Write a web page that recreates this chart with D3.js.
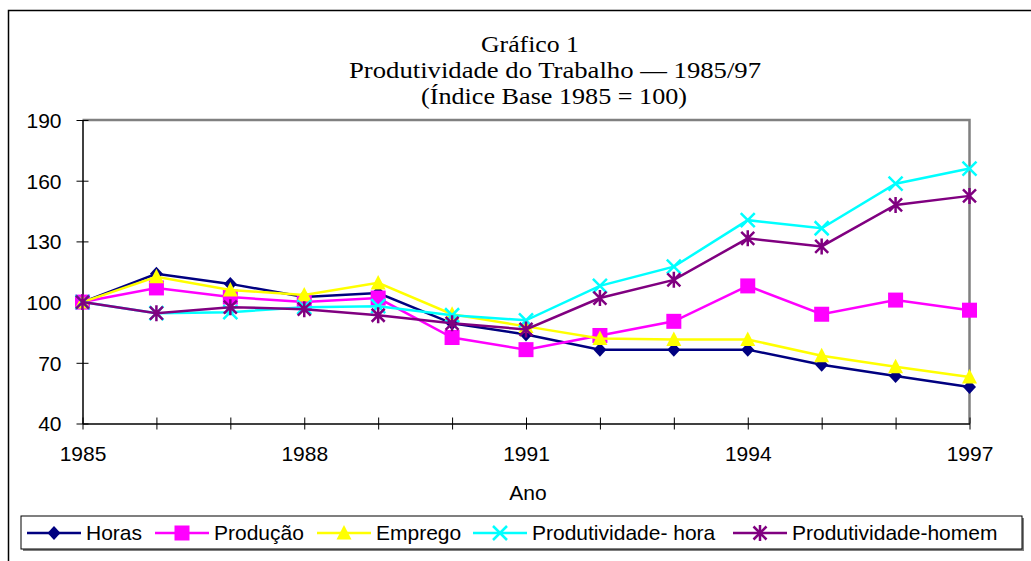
<!doctype html>
<html>
  <head>
    <meta charset="utf-8">
    <title>Produtividade do Trabalho 1985/97</title>
    <script src="https://cdnjs.cloudflare.com/ajax/libs/d3/7.8.5/d3.min.js"></script>
    <style>
      body { margin: 0; background: #fff; }
      svg { display: block; }
    </style>
  </head>
  <body>
    <div id="chart"></div>
    <script>
      // dados (indice 1985 = 100)
      const anos = [1985, 1986, 1987, 1988, 1989, 1990, 1991, 1992, 1993, 1994, 1995, 1996, 1997];
      const horas      = [100, 114, 109, 102.5, 104.5, 89.5, 84, 76.5, 76.5, 76.5, 69, 63.5, 58];
      const producao   = [100, 107, 102.5, 100, 102, 82.5, 76.5, 83.5, 90.5, 108, 94, 101, 96];
      const emprego    = [100, 112.5, 106, 103.5, 109.5, 94, 88, 82, 81.5, 81.5, 73.5, 68, 63];
      const prodHora   = [100, 94.5, 95, 97.5, 98, 93.5, 91, 108, 117.5, 140.5, 136.5, 158.5, 166];
      const prodHomem  = [100, 94.5, 97.5, 96.5, 93.5, 89.5, 86.5, 102, 111, 131.5, 127.5, 148, 152.5];
      const nomes = ['Horas', 'Produção', 'Emprego', 'Produtividade- hora', 'Produtividade-homem'];
      const yTicks = [40, 70, 100, 130, 160, 190];
      const xTickLabels = [1985, 1988, 1991, 1994, 1997];

      const series = [
        { nome: nomes[0], valores: horas,     cor: '#000080', marca: 'diamond' },
        { nome: nomes[1], valores: producao,  cor: '#ff00ff', marca: 'square' },
        { nome: nomes[2], valores: emprego,   cor: '#ffff00', marca: 'triangle' },
        { nome: nomes[3], valores: prodHora,  cor: '#00ffff', marca: 'x' },
        { nome: nomes[4], valores: prodHomem, cor: '#800080', marca: 'star' }
      ];

      const W = 1031, H = 561;
      const fonteSans = '"Liberation Sans", Arial, sans-serif';
      const svg = d3.select('#chart').append('svg')
        .attr('width', W).attr('height', H);

      // moldura externa (cortada a direita e embaixo, como no original)
      svg.append('rect')
        .attr('x', 8.5).attr('y', 10.5)
        .attr('width', 1040).attr('height', 570)
        .attr('fill', 'none').attr('stroke', '#000').attr('stroke-width', 1.5);

      // titulo - o Times do Excel sai mais largo, por isso o textLength
      const titulo = [
        { t: 'Gráfico 1', x: 530, y: 52, w: 98 },
        { t: 'Produtividade do Trabalho — 1985/97', x: 555, y: 78, w: 412 },
        { t: '(Índice Base 1985 = 100)', x: 554, y: 104, w: 266 }
      ];
      svg.selectAll('text.titulo').data(titulo).join('text')
        .attr('class', 'titulo')
        .attr('x', d => d.x).attr('y', d => d.y)
        .attr('text-anchor', 'middle')
        .attr('textLength', d => d.w)
        .attr('lengthAdjust', 'spacingAndGlyphs')
        .style('font-family', '"Liberation Serif", "Times New Roman", serif')
        .style('font-size', '23px')
        .text(d => d.t);

      const x0 = 82.5, x1 = 969.5, y0 = 423.5, y1 = 120;
      const x = d3.scaleLinear().domain([1985, 1997]).range([x0, x1]);
      const y = d3.scaleLinear().domain([40, 190]).range([y0, y1]);

      // borda cinza (topo e direita)
      svg.append('path')
        .attr('d', `M${x0},${y1}H${x1}V${y0}`)
        .attr('fill', 'none').attr('stroke', '#808080').attr('stroke-width', 2.5);

      // eixo y
      const eixoY = svg.append('g').attr('transform', `translate(${x0},0)`)
        .call(d3.axisLeft(y).tickValues(yTicks).tickSize(6).tickPadding(15).tickSizeOuter(0));
      eixoY.select('.domain').attr('stroke', '#000').attr('stroke-width', 1.5);
      eixoY.selectAll('.tick line').attr('x2', 6).attr('x1', -6).attr('stroke', '#000');
      eixoY.selectAll('.tick text')
        .style('font-family', fonteSans)
        .style('font-size', '21px').attr('fill', '#000').attr('dy', '0.35em');

      // eixo x
      const eixoX = svg.append('g').attr('transform', `translate(0,${y0})`)
        .call(d3.axisBottom(x).tickValues(anos).tickSize(6).tickSizeOuter(0).tickPadding(17)
          .tickFormat(d => xTickLabels.includes(d) ? String(d) : ''));
      eixoX.select('.domain').attr('stroke', '#000').attr('stroke-width', 1.5);
      eixoX.selectAll('.tick line').attr('y1', -6).attr('y2', 6).attr('stroke', '#000');
      eixoX.selectAll('.tick text')
        .style('font-family', fonteSans)
        .style('font-size', '21px').attr('fill', '#000');

      svg.append('text')
        .attr('x', 528).attr('y', 500)
        .attr('text-anchor', 'middle')
        .style('font-family', fonteSans)
        .style('font-size', '21px')
        .text('Ano');

      // marcadores
      function marca(g, tipo, cor) {
        if (tipo === 'diamond') {
          g.append('path').attr('d', 'M0,-7L6.5,0L0,7L-6.5,0Z').attr('fill', cor);
        } else if (tipo === 'square') {
          g.append('rect').attr('x', -7.5).attr('y', -7.5).attr('width', 15).attr('height', 15).attr('fill', cor);
        } else if (tipo === 'triangle') {
          g.append('path').attr('d', 'M0,-8L7.5,6.5L-7.5,6.5Z').attr('fill', cor);
        } else if (tipo === 'x') {
          g.append('path').attr('d', 'M-7,-7L7,7M7,-7L-7,7')
            .attr('stroke', cor).attr('stroke-width', 2.5);
        } else if (tipo === 'star') {
          g.append('path').attr('d', 'M-6.5,-6.5L6.5,6.5M6.5,-6.5L-6.5,6.5M0,-8V8')
            .attr('stroke', cor).attr('stroke-width', 2.5);
        }
      }

      const linha = d3.line().x((d, i) => x(anos[i])).y(d => y(d));

      series.forEach(s => {
        svg.append('path')
          .attr('d', linha(s.valores))
          .attr('fill', 'none').attr('stroke', s.cor).attr('stroke-width', 2.5);
        s.valores.forEach((v, i) => {
          const g = svg.append('g').attr('transform', `translate(${x(anos[i])},${y(v)})`);
          marca(g, s.marca, s.cor);
        });
      });

      // legenda
      const leg = svg.append('g');
      leg.append('rect')
        .attr('x', 23).attr('y', 518).attr('width', 1001).attr('height', 33)
        .attr('fill', '#808080');
      leg.append('rect')
        .attr('x', 21).attr('y', 516).attr('width', 1001).attr('height', 33)
        .attr('fill', '#fff').attr('stroke', '#000').attr('stroke-width', 1);

      const legX = [27, 155, 317, 473, 733];
      series.forEach((s, i) => {
        const lx = legX[i], ly = 533;
        leg.append('line')
          .attr('x1', lx).attr('x2', lx + 54).attr('y1', ly).attr('y2', ly)
          .attr('stroke', s.cor).attr('stroke-width', 2.5);
        const g = leg.append('g').attr('transform', `translate(${lx + 27},${ly})`);
        marca(g, s.marca, s.cor);
        leg.append('text')
          .attr('x', lx + 59).attr('y', ly).attr('dy', '0.35em')
          .style('font-family', fonteSans)
          .style('font-size', '21px')
          .text(s.nome);
      });
    </script>
  </body>
</html>
